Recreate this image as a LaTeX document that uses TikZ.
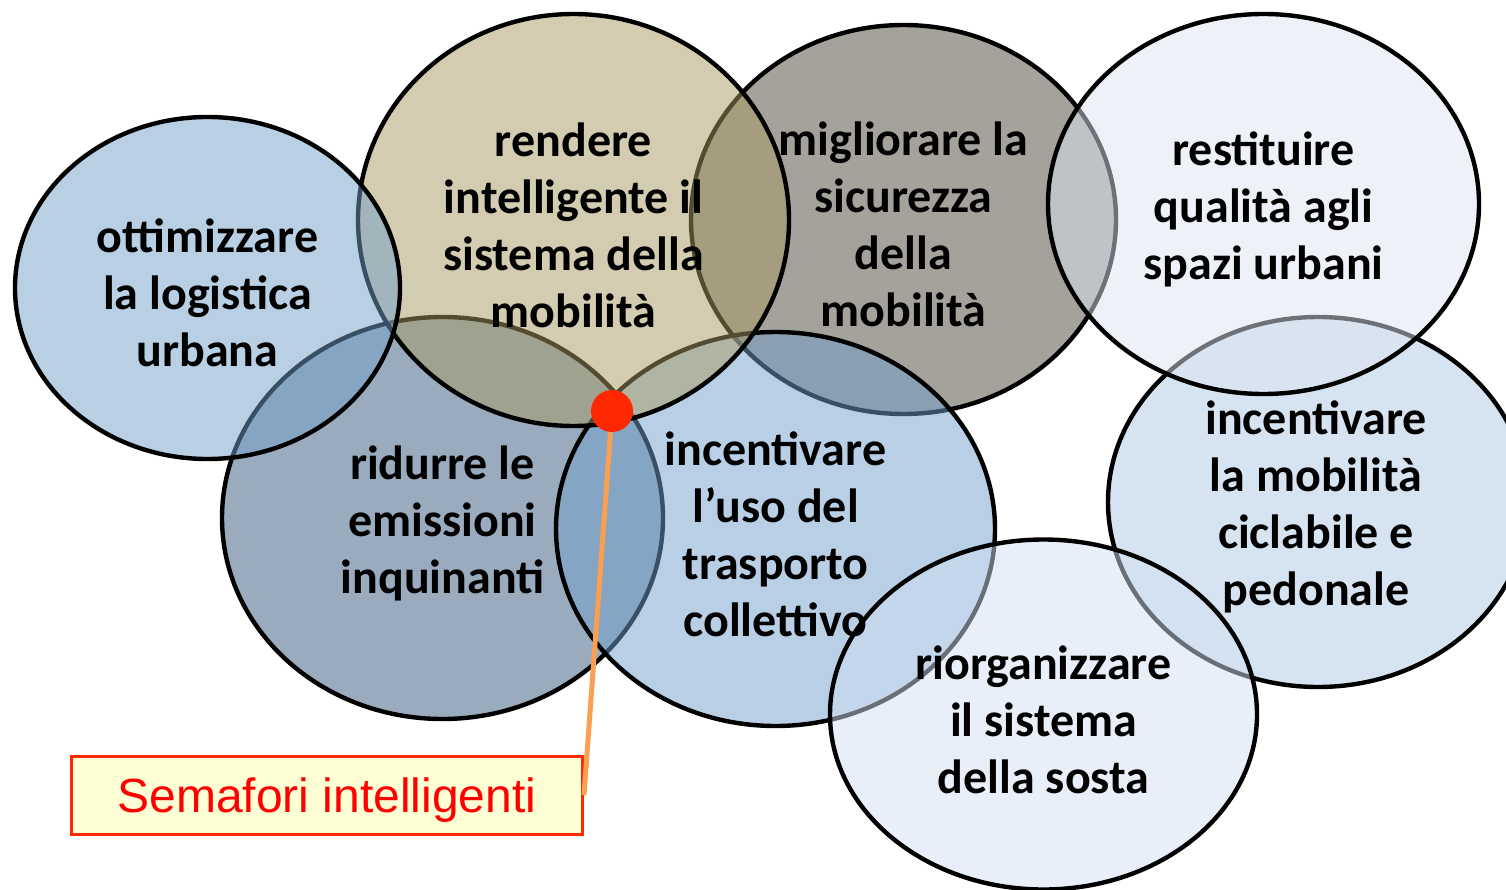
\documentclass[tikz,border=0pt]{standalone}
\usepackage{fontspec}
\setmainfont{Carlito}
\newfontfamily\arialfont{Liberation Sans}
\usetikzlibrary{shapes.geometric}

\definecolor{cLogistica}{RGB}{113,159,201}
\definecolor{cSistema}{RGB}{167,153,99}
\definecolor{cSicurezza}{RGB}{73,69,55}
\definecolor{cSpazi}{RGB}{221,229,241}
\definecolor{cEmissioni}{RGB}{53,87,123}
\definecolor{cTrasporto}{RGB}{113,159,203}
\definecolor{cCiclabile}{RGB}{173,199,225}
\definecolor{cSosta}{RGB}{209,223,241}
\definecolor{dotred}{RGB}{255,40,0}
\definecolor{wireorange}{RGB}{250,160,80}
\definecolor{boxfill}{RGB}{255,255,213}

\begin{document}
\begin{tikzpicture}[
    x=1pt, y=-1pt,
    ell/.style={ellipse, draw=black, line width=4.4pt, fill opacity=0.5, inner sep=0pt},
    etext/.style={align=center, yshift=-5pt, font=\fontsize{48}{57}\selectfont\bfseries},
    wire/.style={wireorange, line width=5pt},
]
\useasboundingbox (0,0) rectangle (1506,890);

% Draw the eight ellipses, back to front
\node[ell, fill=cSicurezza, minimum width=425, minimum height=389] (Sicurezza) at (903.5, 219.5) {};
\node[ell, fill=cEmissioni, minimum width=441, minimum height=402] (Emissioni) at (442.5, 518) {};
\node[ell, fill=cTrasporto, minimum width=439, minimum height=394] (Trasporto) at (775.5, 529) {};
\node[ell, fill=cSistema, minimum width=431, minimum height=412] (Sistema) at (573.5, 220) {};
\node[ell, fill=cLogistica, minimum width=385, minimum height=342] (Logistica) at (207.5, 288) {};
\node[ell, fill=cCiclabile, minimum width=420, minimum height=370] (Ciclabile) at (1318, 502) {};
\node[ell, fill=cSpazi, minimum width=431, minimum height=380] (Spazi) at (1263.5, 204) {};
\node[ell, fill=cSosta, minimum width=427, minimum height=350] (Sosta) at (1043.5, 714.5) {};

% Texts inside the ellipses
\node[etext] (tSicurezza) at (Sicurezza) {migliorare la\\sicurezza\\della\\mobilità};
\node[etext] (tEmissioni) at (Emissioni) {ridurre le\\emissioni\\inquinanti};
\node[etext] (tTrasporto) at (Trasporto) {incentivare\\l’uso del\\trasporto\\collettivo};
\node[etext] (tSistema) at (Sistema) {rendere\\intelligente il\\sistema della\\mobilità};
\node[etext] (tLogistica) at (Logistica) {ottimizzare\\la logistica\\urbana};
\node[etext] (tCiclabile) at (1316, 502) {incentivare\\la mobilità\\ciclabile e\\pedonale};
\node[etext] (tSpazi) at (Spazi) {restituire\\qualità agli\\spazi urbani};
\node[etext] (tSosta) at (Sosta) {riorganizzare\\il sistema\\della sosta};

% ================================================================
% Callout: red dot and its label box
% ================================================================
\node[circle, fill=dotred, minimum size=42, inner sep=0pt] (dot) at (612, 411) {};
\node[draw=dotred, line width=3pt, fill=boxfill, minimum width=511, minimum height=78,
      text height=34, text depth=0, text=red, font=\arialfont\fontsize{48}{56}\selectfont] (semafori) at (327, 795) {Semafori intelligenti};
\draw[wire] (dot) -- (semafori.east);

\end{tikzpicture}
\end{document}
